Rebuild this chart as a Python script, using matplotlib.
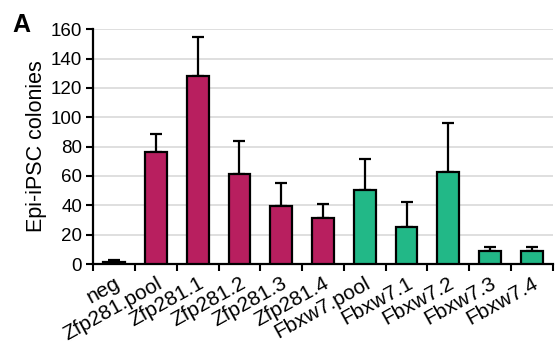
import matplotlib
matplotlib.use("Agg")
import matplotlib.pyplot as plt
import matplotlib.transforms as mtransforms
import numpy as np

plt.rcParams['font.family'] = ['Liberation Sans', 'DejaVu Sans']

categories = ["neg", "Zfp281.pool", "Zfp281.1", "Zfp281.2", "Zfp281.3", "Zfp281.4",
              "Fbxw7.pool", "Fbxw7.1", "Fbxw7.2", "Fbxw7.3", "Fbxw7.4"]
values = [1.5, 76, 128, 61.5, 39.7, 31.5, 50.4, 25.2, 62.8, 8.8, 8.8]
errors = [1.0, 12.5, 26.7, 22.0, 15.3, 9.1, 21.3, 17.0, 33.0, 2.5, 2.5]
groups = ["neg", "Zfp281", "Zfp281", "Zfp281", "Zfp281", "Zfp281",
          "Fbxw7", "Fbxw7", "Fbxw7", "Fbxw7", "Fbxw7"]
group_colors = {"neg": "#b81f5f", "Zfp281": "#b81f5f", "Fbxw7": "#22b887"}

fig = plt.figure(figsize=(5.55, 3.47), dpi=100)
ax = fig.add_axes([0.168, 0.239, 0.828, 0.677])

x = np.arange(len(categories))
colors = [group_colors[g] for g in groups]
ax.bar(x, values, width=0.52, color=colors, edgecolor="black", linewidth=1.6, zorder=3)
ax.errorbar(x, values, yerr=[np.zeros(len(errors)), errors], fmt="none",
            ecolor="black", elinewidth=1.6, capsize=4, capthick=1.6, zorder=2)

ax.set_xlim(-0.5, len(categories) - 0.5)
ax.set_ylim(0, 160)
ax.set_yticks(np.arange(0, 161, 20))
ax.yaxis.grid(True, color="#d9d9d9", linewidth=1.2, zorder=0)
ax.set_axisbelow(True)

ax.set_xticks(np.arange(-0.5, len(categories), 1.0))
ax.set_xticklabels([])
ax.set_xticks(x, minor=True)
ax.set_xticklabels(categories, minor=True, rotation=29, ha="right",
                   rotation_mode="anchor", fontsize=15)
shift = mtransforms.ScaledTranslation(6 / 100, 0, fig.dpi_scale_trans)
for lbl in ax.get_xticklabels(minor=True):
    lbl.set_transform(lbl.get_transform() + shift)
ax.tick_params(axis="x", which="minor", length=0, pad=7)
ax.tick_params(axis="x", which="major", length=5, width=1.5, direction="out")
ax.tick_params(axis="y", length=5, width=1.5, labelsize=13.5, pad=3)

for side in ("top", "right"):
    ax.spines[side].set_visible(False)
for side in ("left", "bottom"):
    ax.spines[side].set_linewidth(1.6)

ax.set_ylabel("Epi-iPSC colonies", fontsize=15.5, labelpad=3)
fig.text(0.022, 0.907, "A", fontsize=18, fontweight="bold")

fig.savefig("out.png", dpi=100)
